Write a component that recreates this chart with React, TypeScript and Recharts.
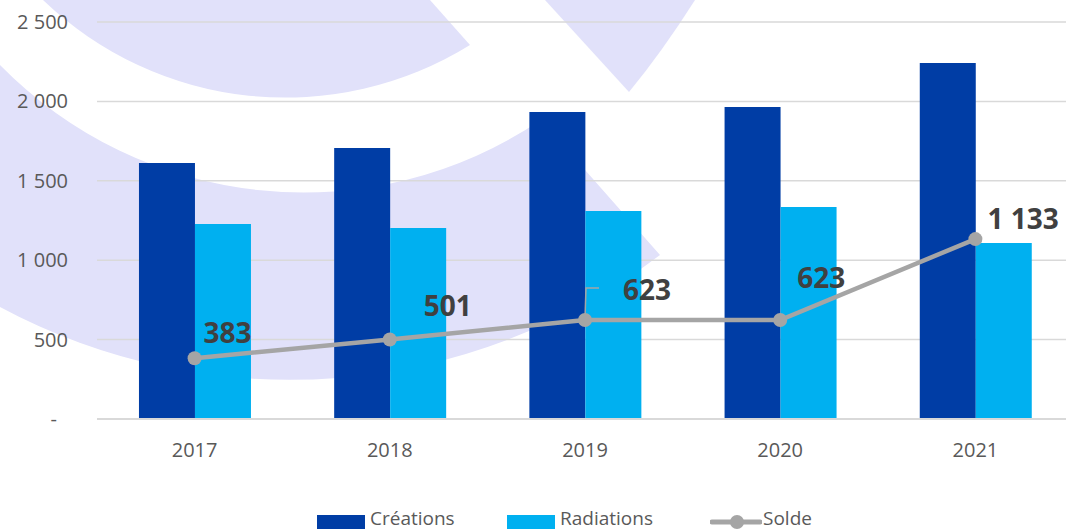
import React from 'react';
import { ComposedChart, Bar, Line, XAxis, YAxis, CartesianGrid, Legend, LabelList } from 'recharts';

const years = ['2017', '2018', '2019', '2020', '2021'];
const creations = [1612, 1706, 1933, 1965, 2242];
const radiations = [1228, 1203, 1310, 1335, 1108];
const solde = [383, 501, 623, 623, 1133];
const yTicks = [0, 500, 1000, 1500, 2000, 2500];
const soldeLabels = ['383', '501', '623', '623', '1 133'];

// label placement relative to the point (decoration only)
const labelOffsets = [
  { dx: 9, dy: -25 },
  { dx: 34, dy: -33 },
  { dx: 38, dy: -30 },
  { dx: 17, dy: -42 },
  { dx: 12, dy: -20 },
];

const data = years.map((y, i) => ({
  year: y,
  creations: creations[i],
  radiations: radiations[i],
  solde: solde[i],
}));

const FONT = "'Open Sans', 'Noto Sans', sans-serif";
const C_DARK = '#003DA5';
const C_LIGHT = '#00B0F0';
const C_GRAY = '#A5A5A5';
const LAVENDER = '#E1E1FA';

const fmt = (v: number) => (v === 0 ? '-' : String(v).replace(/\B(?=(\d{3})+(?!\d))/g, ' '));

const YTick = (props: any) => {
  const { x, y, payload } = props;
  const isZero = payload.value === 0;
  return (
    <text x={x - (isZero ? 32 : 21)} y={y} dy={7} textAnchor="end" fill="#595959" fontSize={20} fontFamily={FONT}>
      {fmt(payload.value)}
    </text>
  );
};

const XTick = (props: any) => {
  const { x, y, payload } = props;
  return (
    <text x={x} y={y} dy={30} textAnchor="middle" fill="#595959" fontSize={20} fontFamily={FONT}>
      {payload.value}
    </text>
  );
};

const SoldeLabel = (props: any) => {
  const { x, y, index } = props;
  const o = labelOffsets[index];
  return (
    <g>
      {index === 2 && (
        <path d={`M ${x} ${y - 2} L ${x + 1} ${y - 32} L ${x + 14} ${y - 32}`} fill="none" stroke={C_GRAY} strokeWidth={1.5} />
      )}
      <text x={x + o.dx} y={y + o.dy + 10} textAnchor="start" fill="#404040" fontSize={28} fontWeight={700} fontFamily={FONT}>
        {soldeLabels[index]}
      </text>
    </g>
  );
};

const legendLeft = [317, 507, 710];

const LegendContent = (props: any) => {
  const payload = props.payload || [];
  return (
    <div style={{ position: 'relative', height: 20, width: 1066 }}>
      {payload.map((p: any, i: number) => (
        <div key={p.value} style={{ position: 'absolute', left: legendLeft[i], top: 0, height: 20 }}>
          {p.type === 'line' ? (
            <svg width={52} height={16} style={{ position: 'absolute', left: 0, top: 4, display: 'block' }}>
              <line x1={2} y1={8} x2={50} y2={8} stroke={C_GRAY} strokeWidth={5} strokeLinecap="round" />
              <circle cx={27} cy={8} r={7} fill={C_GRAY} />
            </svg>
          ) : (
            <div style={{ position: 'absolute', left: 0, top: 5, width: 48, height: 14, background: p.color }} />
          )}
          <span
            style={{
              position: 'absolute',
              left: p.type === 'line' ? 53 : 53,
              top: -4,
              whiteSpace: 'nowrap',
              fontFamily: FONT,
              fontSize: 19,
              color: '#595959',
              lineHeight: '24px',
            }}
          >
            {p.value}
          </span>
        </div>
      ))}
    </div>
  );
};

const Watermark = () => (
  <svg width={1066} height={530} style={{ position: 'absolute', left: 0, top: 0 }}>
    <path d="M 43 0 A 350 350 0 0 0 470 45 L 430 0 Z" fill={LAVENDER} />
    <path d="M 545 0 L 629 92 Q 662 52 695 0 Z" fill={LAVENDER} />
    <path d="M -5 60 L -5 310 L 0 307 A 612 612 0 0 0 660 255 L 541 120 A 425 425 0 0 1 0 65 Z" fill={LAVENDER} />
  </svg>
);

export default function App() {
  return (
    <div style={{ position: 'absolute', left: 0, top: 0, width: 1066, height: 530, overflow: 'hidden', background: '#fff' }}>
      <Watermark />
      <div style={{ position: 'absolute', left: 0, top: 0 }}>
        <ComposedChart
          width={1073}
          height={530}
          data={data}
          margin={{ top: 22, right: 0, bottom: 0, left: 0 }}
          barGap={0}
          barCategoryGap="21.5%"
        >
          <CartesianGrid vertical={false} stroke="#D9D9D9" strokeWidth={1.5} />
          <XAxis
            dataKey="year"
            axisLine={{ stroke: '#D9D9D9', strokeWidth: 2 }}
            tickLine={false}
            tick={<XTick />}
            height={91}
            interval={0}
          />
          <YAxis
            domain={[0, 2500]}
            ticks={yTicks}
            axisLine={false}
            tickLine={false}
            tick={<YTick />}
            width={97}
            interval={0}
          />
          <Legend verticalAlign="bottom" content={<LegendContent />} wrapperStyle={{ left: 0, width: 1066 }} />
          <Bar dataKey="creations" name="Créations" fill={C_DARK} isAnimationActive={false} />
          <Bar dataKey="radiations" name="Radiations" fill={C_LIGHT} isAnimationActive={false} />
          <Line
            dataKey="solde"
            name="Solde"
            type="linear"
            stroke={C_GRAY}
            strokeWidth={4.5}
            dot={{ r: 7, fill: C_GRAY, stroke: 'none' }}
            activeDot={false}
            isAnimationActive={false}
            legendType="line"
          >
            <LabelList dataKey="solde" content={<SoldeLabel />} />
          </Line>
        </ComposedChart>
      </div>
    </div>
  );
}
